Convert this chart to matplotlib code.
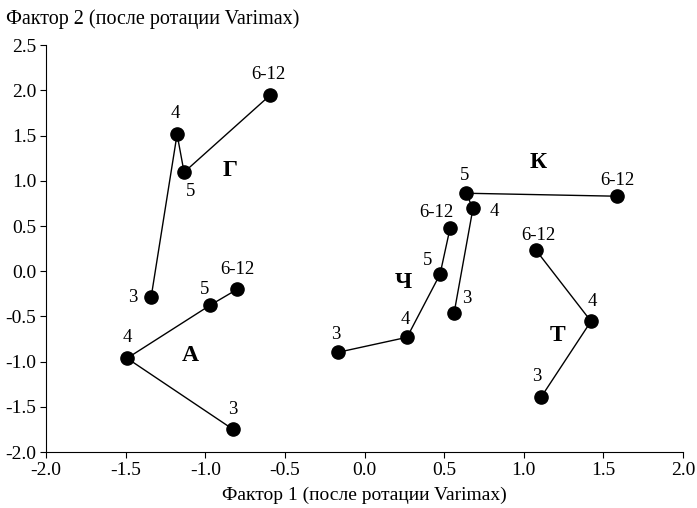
import matplotlib.pyplot as plt

plt.rcParams['font.family'] = ['Liberation Serif', 'DejaVu Serif']

# Данные: координаты групп по возрастам (3, 4, 5, 6-12)
groups = ['Г', 'А', 'Ч', 'К', 'Т']
ages = {
    'Г': ['3', '4', '5', '6-12'],
    'А': ['3', '4', '5', '6-12'],
    'Ч': ['3', '4', '5', '6-12'],
    'К': ['3', '4', '5', '6-12'],
    'Т': ['3', '4', '6-12'],
}
f1 = {
    'Г': [-1.34, -1.177, -1.133, -0.593],
    'А': [-0.826, -1.491, -0.97, -0.80],
    'Ч': [-0.166, 0.267, 0.474, 0.537],
    'К': [0.562, 0.681, 0.637, 1.585],
    'Т': [1.108, 1.422, 1.077],
}
f2 = {
    'Г': [-0.288, 1.515, 1.095, 1.947],
    'А': [-1.748, -0.962, -0.376, -0.20],
    'Ч': [-0.896, -0.73, -0.033, 0.476],
    'К': [-0.465, 0.697, 0.863, 0.83],
    'Т': [-1.394, -0.553, 0.232],
}
group_pos = {
    'Г': (-0.845, 1.117),
    'А': (-1.096, -0.93),
    'Ч': (0.242, -0.12),
    'К': (1.09, 1.20),
    'Т': (1.21, -0.71),
}

# смещения подписей точек (в пунктах)
offsets = {
    'Г': [(-13, 0), (-1, 15), (5, -14), (-1, 15)],
    'А': [(0, 14), (0, 15), (-4, 11), (0, 14)],
    'Ч': [(-2, 13), (-1, 13), (-9, 10), (-10, 11)],
    'К': [(9, 11), (15, -2), (-1, 13), (0, 11)],
    'Т': [(-3, 15), (1, 14), (2, 11)],
}

fig = plt.figure(figsize=(6.97, 5.08), dpi=100)
ax = fig.add_axes([0.066, 0.110, 0.914, 0.801])

for g in groups:
    ax.plot(f1[g], f2[g], color='black', lw=1.0, marker='o', ms=9.5, zorder=2)
    for x, y, lab, off in zip(f1[g], f2[g], ages[g], offsets[g]):
        ax.annotate(lab, (x, y), xytext=off, textcoords='offset points',
                    ha='center', va='center', fontsize=13.5)
    ax.text(*group_pos[g], g, ha='center', va='center', fontsize=17, fontweight='bold')

ax.set_xlim(-2.0, 2.0)
ax.set_ylim(-2.0, 2.5)
ax.set_xticks([-2.0, -1.5, -1.0, -0.5, 0.0, 0.5, 1.0, 1.5, 2.0])
ax.set_yticks([-2.0, -1.5, -1.0, -0.5, 0.0, 0.5, 1.0, 1.5, 2.0, 2.5])
ax.xaxis.set_major_formatter(plt.FormatStrFormatter('%.1f'))
ax.yaxis.set_major_formatter(plt.FormatStrFormatter('%.1f'))
ax.spines['top'].set_visible(False)
ax.spines['right'].set_visible(False)
ax.tick_params(direction='out', length=4, labelsize=14, pad=3)
ax.set_xlabel('Фактор 1 (после ротации Varimax)', fontsize=14, labelpad=6)
fig.text(0.008, 0.982, 'Фактор 2 (после ротации Varimax)', fontsize=14.5, ha='left', va='top')

fig.savefig('out.png', dpi=100)
